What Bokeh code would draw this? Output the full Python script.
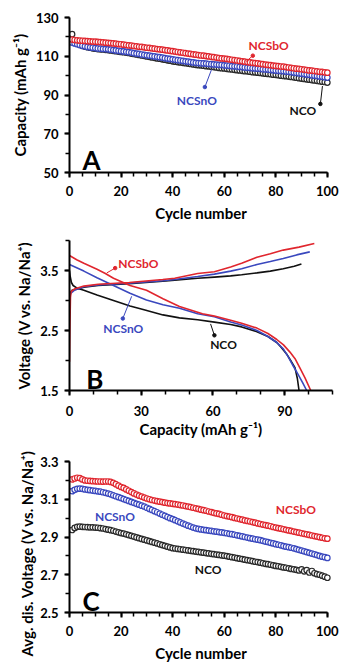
from bokeh.plotting import figure
from bokeh.layouts import column
from bokeh.models import Range1d, FixedTicker, Label, Title
from bokeh.embed import file_html
from bokeh.resources import INLINE

# ---------------- data ----------------
cycles = list(range(1, 101))

capA_NCSbO = [118.6, 118.4, 118.2, 118.1, 118.0, 117.9, 117.8, 117.7, 117.6, 117.5,
              117.4, 117.3, 117.2, 117.0, 116.9, 116.8, 116.6, 116.5, 116.3, 116.2,
              116.0, 115.8, 115.6, 115.5, 115.3, 115.1, 114.9, 114.8, 114.6, 114.4,
              114.3, 114.1, 113.9, 113.7, 113.6, 113.4, 113.2, 113.0, 112.8, 112.6,
              112.4, 112.2, 112.0, 111.8, 111.6, 111.4, 111.2, 111.0, 110.8, 110.6,
              110.4, 110.3, 110.1, 109.9, 109.7, 109.5, 109.3, 109.1, 108.9, 108.8,
              108.6, 108.4, 108.2, 108.0, 107.8, 107.6, 107.4, 107.2, 107.0, 106.8,
              106.6, 106.5, 106.3, 106.1, 105.9, 105.7, 105.5, 105.4, 105.2, 105.0,
              104.9, 104.7, 104.6, 104.4, 104.2, 104.0, 103.8, 103.6, 103.5, 103.3,
              103.1, 102.9, 102.7, 102.6, 102.4, 102.2, 102.0, 101.9, 101.7, 101.5]
capA_NCSnO = [117.0, 116.6, 116.2, 115.8, 115.4, 115.1, 114.8, 114.6, 114.4, 114.2,
              114.0, 113.9, 113.8, 113.7, 113.6, 113.4, 113.2, 113.0, 112.8, 112.6,
              112.5, 112.3, 112.1, 111.9, 111.6, 111.4, 111.2, 110.9, 110.7, 110.5,
              110.3, 110.1, 109.9, 109.7, 109.5, 109.3, 109.0, 108.8, 108.6, 108.4,
              108.2, 108.0, 107.8, 107.6, 107.4, 107.2, 107.0, 106.8, 106.6, 106.5,
              106.4, 106.3, 106.2, 106.0, 105.9, 105.8, 105.7, 105.6, 105.5, 105.3,
              105.2, 105.1, 104.9, 104.8, 104.7, 104.5, 104.4, 104.2, 104.1, 104.0,
              103.8, 103.7, 103.6, 103.5, 103.3, 103.2, 103.1, 102.9, 102.8, 102.6,
              102.5, 102.4, 102.3, 102.1, 102.0, 101.8, 101.6, 101.4, 101.2, 101.0,
              100.8, 100.6, 100.4, 100.2, 100.0, 99.8, 99.6, 99.4, 99.2, 99.0]
capA_NCO = [121.4, 117.2, 116.5, 115.9, 115.4, 115.0, 114.7, 114.4, 114.1, 113.9,
            113.7, 113.6, 113.5, 113.3, 113.2, 113.0, 112.8, 112.6, 112.4, 112.2,
            112.1, 111.9, 111.7, 111.4, 111.2, 110.9, 110.7, 110.4, 110.2, 109.9,
            109.7, 109.4, 109.2, 108.9, 108.7, 108.4, 108.2, 107.9, 107.7, 107.4,
            107.2, 107.0, 106.8, 106.6, 106.4, 106.2, 106.0, 105.8, 105.6, 105.4,
            105.3, 105.1, 104.9, 104.8, 104.6, 104.4, 104.2, 104.0, 103.8, 103.7,
            103.5, 103.3, 103.2, 103.0, 102.8, 102.7, 102.5, 102.3, 102.2, 102.0,
            101.8, 101.7, 101.5, 101.4, 101.2, 101.0, 100.9, 100.7, 100.5, 100.4,
            100.2, 100.0, 99.8, 99.7, 99.5, 99.3, 99.1, 98.9, 98.7, 98.5,
            98.3, 98.1, 97.9, 97.7, 97.5, 97.3, 97.1, 96.9, 96.7, 96.4]

# Panel B: charge / discharge profiles
chg_NCSbO_cap = [0, 0.2, 0.4, 0.7, 2, 6, 12, 25, 39, 44, 53.6, 60.6, 67.4, 72, 78.4, 84, 89.4, 96, 102.4]
chg_NCSbO_v = [1.98, 2.6, 3.05, 3.15, 3.19, 3.24, 3.27, 3.30, 3.35, 3.37, 3.45, 3.48, 3.56, 3.62, 3.72, 3.78, 3.84, 3.89, 3.95]
chg_NCSnO_cap = [0, 0.5, 2, 6, 12, 25, 39, 44, 53.6, 60.6, 67.4, 72, 78.4, 84, 89.4, 95, 100.5]
chg_NCSnO_v = [3.05, 3.12, 3.17, 3.23, 3.26, 3.29, 3.33, 3.35, 3.40, 3.44, 3.49, 3.53, 3.60, 3.65, 3.70, 3.76, 3.81]
chg_NCO_cap = [0, 1, 3, 6, 12, 25, 39, 44, 53.6, 60.6, 67.4, 72, 78.4, 84, 89.4, 94, 97]
chg_NCO_v = [3.10, 3.17, 3.19, 3.22, 3.25, 3.28, 3.32, 3.34, 3.37, 3.39, 3.41, 3.43, 3.46, 3.49, 3.53, 3.57, 3.61]

dis_NCSbO_cap = [0, 3, 6, 11.5, 15, 18.4, 25.3, 32.2, 39.1, 46, 55.6, 60.6, 67.4, 72, 78.4, 83, 86.7, 89.5, 92.2, 94.5, 96.3, 98.5, 100.9]
dis_NCSbO_v = [3.75, 3.68, 3.62, 3.52, 3.45, 3.37, 3.25, 3.17, 3.03, 2.90, 2.78, 2.74, 2.67, 2.62, 2.54, 2.45, 2.35, 2.26, 2.14, 2.02, 1.88, 1.71, 1.50]
dis_NCSnO_cap = [0, 6, 11.5, 18.4, 25.3, 32.2, 39.1, 46, 53.6, 60.6, 67.4, 72, 78.4, 83, 86.7, 89.5, 91.5, 93.7, 95.6, 97.5, 99.2]
dis_NCSnO_v = [3.60, 3.49, 3.38, 3.25, 3.12, 3.01, 2.93, 2.87, 2.78, 2.73, 2.64, 2.59, 2.50, 2.40, 2.30, 2.19, 2.06, 1.90, 1.77, 1.63, 1.50]
dis_NCO_cap = [0, 0.3, 0.8, 1.5, 3, 6, 11.5, 18.4, 25.3, 30.8, 39.1, 46, 53.6, 60.6, 67.4, 72, 78.4, 83, 86.7, 88.5, 90.8, 92.5, 94.3, 95.3, 96.0]
dis_NCO_v = [3.50, 3.40, 3.30, 3.25, 3.21, 3.17, 3.09, 3.00, 2.91, 2.85, 2.76, 2.71, 2.68, 2.64, 2.60, 2.56, 2.48, 2.40, 2.30, 2.22, 2.11, 2.00, 1.88, 1.70, 1.50]

# Panel C: average discharge voltage
avgV_NCSbO = [3.205, 3.210, 3.214, 3.212, 3.205, 3.200, 3.198, 3.197, 3.196, 3.195,
              3.194, 3.194, 3.193, 3.194, 3.194, 3.192, 3.187, 3.180, 3.172, 3.165,
              3.160, 3.152, 3.145, 3.138, 3.131, 3.125, 3.119, 3.114, 3.109, 3.104,
              3.100, 3.096, 3.093, 3.090, 3.087, 3.085, 3.082, 3.080, 3.078, 3.076,
              3.074, 3.072, 3.069, 3.067, 3.064, 3.061, 3.058, 3.055, 3.052, 3.049,
              3.045, 3.042, 3.039, 3.035, 3.032, 3.028, 3.025, 3.022, 3.018, 3.014,
              3.011, 3.008, 3.005, 3.001, 2.998, 2.995, 2.992, 2.988, 2.985, 2.982,
              2.979, 2.976, 2.972, 2.969, 2.966, 2.963, 2.960, 2.957, 2.953, 2.950,
              2.947, 2.944, 2.941, 2.938, 2.935, 2.932, 2.929, 2.926, 2.923, 2.920,
              2.917, 2.914, 2.911, 2.908, 2.905, 2.902, 2.899, 2.896, 2.893, 2.891]
avgV_NCSnO = [3.143, 3.150, 3.155, 3.156, 3.155, 3.152, 3.150, 3.148, 3.146, 3.144,
              3.142, 3.140, 3.137, 3.134, 3.130, 3.126, 3.121, 3.116, 3.111, 3.106,
              3.101, 3.096, 3.091, 3.086, 3.081, 3.076, 3.071, 3.066, 3.061, 3.055,
              3.049, 3.043, 3.037, 3.031, 3.024, 3.018, 3.012, 3.006, 3.000, 2.995,
              2.989, 2.983, 2.977, 2.971, 2.966, 2.960, 2.955, 2.950, 2.946, 2.943,
              2.940, 2.938, 2.936, 2.934, 2.932, 2.930, 2.928, 2.926, 2.924, 2.922,
              2.920, 2.917, 2.915, 2.912, 2.909, 2.906, 2.903, 2.900, 2.897, 2.894,
              2.891, 2.888, 2.886, 2.883, 2.880, 2.876, 2.873, 2.869, 2.866, 2.862,
              2.859, 2.856, 2.852, 2.849, 2.846, 2.843, 2.840, 2.836, 2.832, 2.828,
              2.824, 2.820, 2.816, 2.812, 2.808, 2.804, 2.800, 2.796, 2.793, 2.789]
avgV_NCO = [2.937, 2.948, 2.954, 2.955, 2.954, 2.953, 2.952, 2.951, 2.951, 2.950,
            2.949, 2.947, 2.945, 2.942, 2.939, 2.936, 2.933, 2.929, 2.925, 2.921,
            2.918, 2.914, 2.910, 2.906, 2.902, 2.898, 2.894, 2.890, 2.886, 2.882,
            2.878, 2.874, 2.870, 2.866, 2.861, 2.857, 2.853, 2.849, 2.845, 2.841,
            2.839, 2.837, 2.835, 2.833, 2.831, 2.829, 2.827, 2.825, 2.823, 2.821,
            2.819, 2.817, 2.815, 2.813, 2.811, 2.809, 2.807, 2.805, 2.803, 2.801,
            2.799, 2.796, 2.793, 2.791, 2.788, 2.785, 2.783, 2.780, 2.777, 2.775,
            2.772, 2.769, 2.767, 2.764, 2.761, 2.758, 2.756, 2.753, 2.750, 2.747,
            2.745, 2.742, 2.739, 2.737, 2.734, 2.731, 2.729, 2.726, 2.723, 2.728,
            2.718, 2.724, 2.712, 2.720, 2.708, 2.703, 2.700, 2.695, 2.690, 2.684]

# tick labels
cycle_ticks = [0, 20, 40, 60, 80, 100]
cycle_minor = list(range(0, 101, 5))
capA_ticks = [50, 70, 90, 110, 130]
capA_minor = list(range(50, 131, 10))
capB_ticks = [0, 30, 60, 90]
capB_minor = list(range(0, 111, 10))
voltB_ticks = [1.5, 2.5, 3.5]
voltB_minor = [1.5, 2.0, 2.5, 3.0, 3.5, 4.0]
avgV_ticks = [2.5, 2.7, 2.9, 3.1, 3.3]
avgV_minor = [2.5, 2.6, 2.7, 2.8, 2.9, 3.0, 3.1, 3.2, 3.3]

# ---------------- style ----------------
FONT = "Lato"
RED = "#E0262E"
BLUE = "#3A48BE"
BLACK = "#2a2a2a"
LBLACK = "#111111"


def style_axes(p, xt, xm, yt, ym, xlabel, ylabel, xbounds, ybounds,
               xlab_off, xstand, ystand):
    p.grid.visible = False
    p.outline_line_color = None
    p.background_fill_color = "white"
    p.border_fill_color = "white"
    for ax in (p.xaxis[0], p.yaxis[0]):
        ax.axis_line_width = 2
        ax.axis_line_color = "black"
        ax.major_tick_line_width = 2
        ax.minor_tick_line_width = 1.5
        ax.major_tick_line_color = "black"
        ax.minor_tick_line_color = "black"
        ax.major_tick_in = 0
        ax.minor_tick_in = 0
        ax.major_tick_out = 5
        ax.minor_tick_out = 4
        ax.major_label_text_font = FONT
        ax.major_label_text_font_style = "bold"
        ax.major_label_text_font_size = "13px"
        ax.major_label_text_color = "black"
        ax.axis_label_text_font = FONT
        ax.axis_label_text_font_style = "bold"
        ax.axis_label_text_font_size = "15px"
        ax.axis_label_text_color = "black"
    p.xaxis[0].ticker = FixedTicker(ticks=xt, minor_ticks=xm)
    p.yaxis[0].ticker = FixedTicker(ticks=yt, minor_ticks=ym)
    p.xaxis[0].axis_label = xlabel
    if ylabel:
        p.yaxis[0].axis_label = ylabel
    p.xaxis[0].bounds = xbounds
    p.yaxis[0].bounds = ybounds
    p.xaxis[0].major_label_standoff = xlab_off
    p.yaxis[0].major_label_standoff = 6
    p.xaxis[0].axis_label_standoff = xstand
    p.yaxis[0].axis_label_standoff = ystand


def add_text(p, x, y, text, color, size="12px"):
    p.add_layout(Label(x=x, y=y, text=text, text_color=color, text_font=FONT,
                       text_font_style="bold", text_font_size=size,
                       text_align="center", text_baseline="middle"))


def add_pointer(p, x0, y0, x1, y1, color):
    p.segment(x0=[x0], y0=[y0], x1=[x1], y1=[y1], line_color=color, line_width=1)
    p.scatter([x0], [y0], size=3.5, color=color)


def add_letter(p, x, y, text):
    p.add_layout(Label(x=x, y=y, text=text, text_color="black", text_font=FONT,
                       text_font_style="bold", text_font_size="26px",
                       text_align="left", text_baseline="alphabetic"))


# ---------------- Panel A ----------------
pA = figure(width=344, height=224, output_backend="svg", toolbar_location=None,
            x_range=Range1d(0, 102), y_range=Range1d(50, 130),
            min_border_left=68, min_border_right=8, min_border_top=17, min_border_bottom=49)
style_axes(pA, cycle_ticks, cycle_minor, capA_ticks, capA_minor,
           "Cycle number", "Capacity (mAh g\u207B\u00B9)", (0, 100), (50, 130), 8, 5, 4)
for vals, col in ((capA_NCO, BLACK), (capA_NCSnO, BLUE), (capA_NCSbO, RED)):
    pA.scatter(cycles, vals, marker="circle", size=5.5, fill_color="white",
               line_color=col, line_width=1.2)
add_text(pA, 77.2, 115.8, "NCSbO", RED)
add_pointer(pA, 71.1, 110.3, 68.4, 107.2, RED)
add_text(pA, 49.4, 87.0, "NCSnO", BLUE)
add_pointer(pA, 52.5, 94.1, 55.1, 103.2, BLUE)
add_text(pA, 90.5, 81.9, "NCO", LBLACK)
add_pointer(pA, 97.3, 85.4, 98.1, 94.6, LBLACK)
add_letter(pA, 5.0, 56.3, "A")

# ---------------- Panel B ----------------
pB = figure(width=344, height=216, output_backend="svg", toolbar_location=None,
            x_range=Range1d(0, 110), y_range=Range1d(1.5, 4.0),
            min_border_left=65, min_border_right=12, min_border_top=16, min_border_bottom=43)
style_axes(pB, capB_ticks, capB_minor, voltB_ticks, voltB_minor,
           "Capacity (mAh g\u207B\u00B9)", "Voltage (V vs. Na/Na\u207A)", (0, 110), (1.5, 4.0), 10, 1, 4)
pB.line(chg_NCO_cap, chg_NCO_v, line_color=LBLACK, line_width=1.6)
pB.line(dis_NCO_cap, dis_NCO_v, line_color=LBLACK, line_width=1.6)
pB.line(chg_NCSnO_cap, chg_NCSnO_v, line_color=BLUE, line_width=1.6)
pB.line(dis_NCSnO_cap, dis_NCSnO_v, line_color=BLUE, line_width=1.6)
pB.line(chg_NCSbO_cap, chg_NCSbO_v, line_color=RED, line_width=1.6)
pB.line(dis_NCSbO_cap, dis_NCSbO_v, line_color=RED, line_width=1.6)
add_text(pB, 28.8, 3.61, "NCSbO", RED)
add_pointer(pB, 19.1, 3.54, 15.6, 3.46, RED)
add_text(pB, 22.5, 2.53, "NCSnO", BLUE)
add_pointer(pB, 22.3, 2.70, 26.0, 3.07, BLUE)
add_text(pB, 64.4, 2.26, "NCO", LBLACK)
add_pointer(pB, 60.6, 2.42, 59.0, 2.61, LBLACK)
add_letter(pB, 7.0, 1.69, "B")

# ---------------- Panel C ----------------
pC = figure(width=344, height=224, output_backend="svg", toolbar_location=None,
            x_range=Range1d(0, 102), y_range=Range1d(2.5, 3.3),
            min_border_left=69, min_border_right=8, min_border_top=21, min_border_bottom=47)
style_axes(pC, cycle_ticks, cycle_minor, avgV_ticks, avgV_minor,
           "Cycle number", None, (0, 100), (2.5, 3.3), 8, 5, 4)
for vals, col in ((avgV_NCO, BLACK), (avgV_NCSnO, BLUE), (avgV_NCSbO, RED)):
    pC.scatter(cycles, vals, marker="circle", size=5.5, fill_color="white",
               line_color=col, line_width=1.2)
add_text(pC, 87.8, 3.044, "NCSbO", RED)
add_text(pC, 17.6, 3.008, "NCSnO", BLUE)
add_text(pC, 53.8, 2.726, "NCO", LBLACK)
add_letter(pC, 5.0, 2.562, "C")
# y-axis title, started below the frame bottom as in the reference
pC.add_layout(Title(text="Avg. dis. Voltage (V vs. Na/Na\u207A)", align="left",
                    offset=-44, standoff=4, text_color="black", text_font=FONT,
                    text_font_style="bold", text_font_size="15px"), "left")

layout = column(pA, pB, pC, spacing=0)
open("out.html", "w").write(file_html(layout, INLINE))
